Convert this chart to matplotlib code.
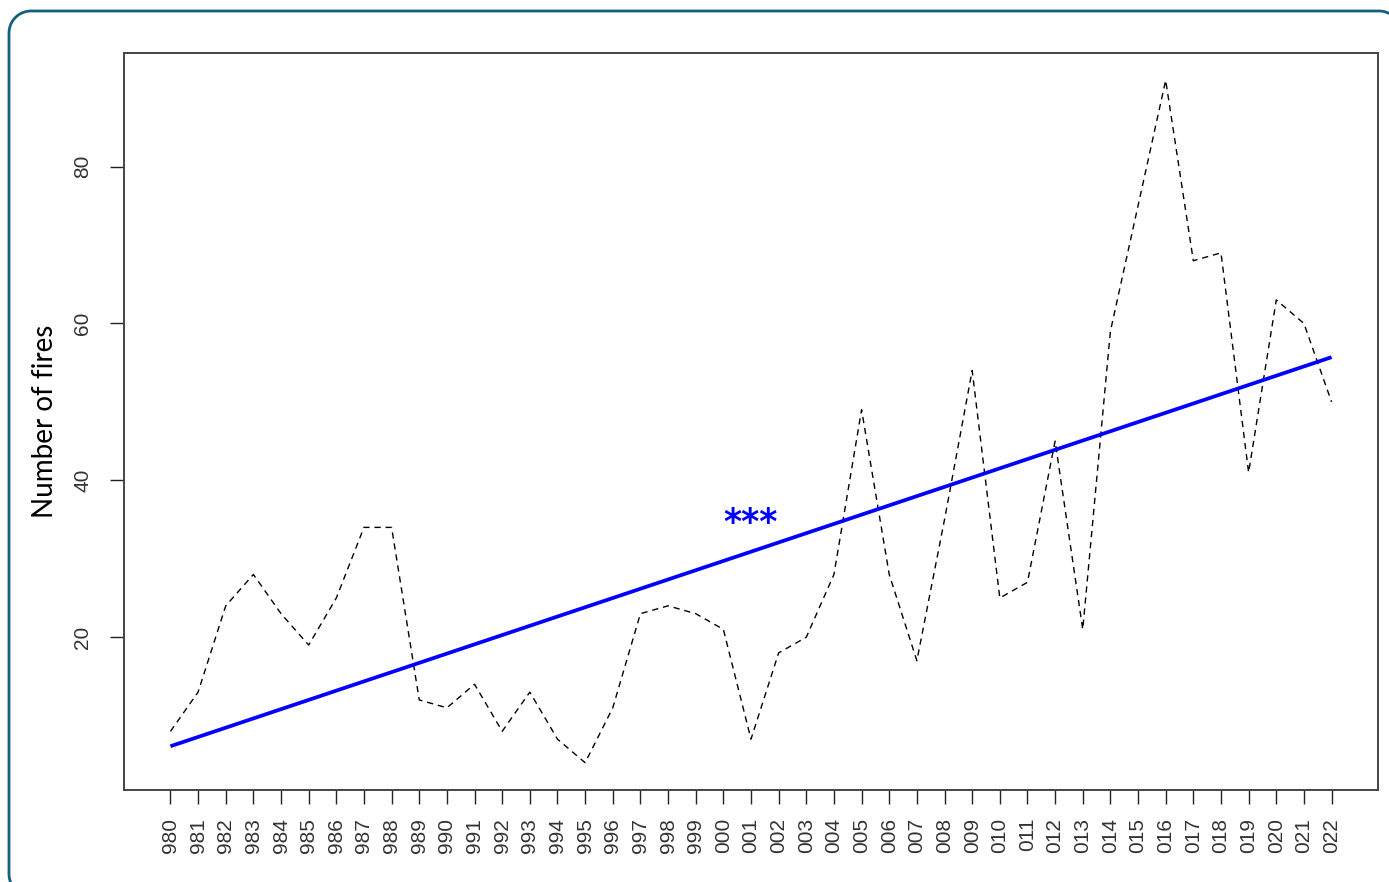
import matplotlib
matplotlib.use('Agg')
import matplotlib.pyplot as plt
import numpy as np
from matplotlib.lines import Line2D
from matplotlib.transforms import Affine2D

plt.rcParams['font.family'] = 'Liberation Sans'

# annual number of fires
years = list(range(1980, 2023))
fires = [8, 13, 24, 28, 23, 19, 25, 34, 34, 12,
         11, 14, 8, 13, 7, 4, 11, 23, 24, 23,
         21, 7, 18, 20, 28, 49, 28, 17, 35, 54,
         25, 27, 45, 21, 59, 75, 91, 68, 69, 41,
         63, 60, 50]
# fitted trend (end points)
trend_years = [1980, 2022]
trend_vals = [6.1, 55.7]
year_labels = [str(y)[1:] for y in years]
signif = '***'

W, H = 1389, 882
fig = plt.figure(figsize=(W / 100, H / 100), dpi=100)

# rounded teal frame, in image pixels (y down), cut by the right/bottom edge
r = 22
x0, y0, x1, y1 = 9, 11, 1401, 896
t = np.linspace(0, np.pi / 2, 20)
bl = np.c_[x0 + r - r * np.sin(t), y1 - r + r * np.cos(t)]
tl = np.c_[x0 + r - r * np.cos(t), y0 + r - r * np.sin(t)]
tr = np.c_[x1 - r + r * np.sin(t), y0 + r - r * np.cos(t)]
pts = np.vstack([bl, tl, tr, [[x1, y1 + 10]]])
pix = Affine2D().scale(1, -1).translate(0, H)
fig.add_artist(Line2D(pts[:, 0], pts[:, 1], transform=pix,
                      color='#125f80', lw=2.0, solid_joinstyle='round'))

ax = fig.add_axes([124 / W, 1 - 790 / H, (1378 - 124) / W, (790 - 53) / H])

ax.plot(years, fires, color='black', lw=1.0, dashes=(4.5, 3.5))
ax.plot(trend_years, trend_vals, color='#0000ff', lw=2.7, solid_capstyle='butt')
ax.text(2001, 34.6, signif, color='#0000ff', fontsize=25, fontweight='bold',
        ha='center', va='center', family='DejaVu Sans')

ax.margins(0.04)
ax.set_xticks(years)
ax.set_xticklabels(year_labels, rotation=90, fontsize=15, color='#333333')
ax.set_yticks([20, 40, 60, 80])
ax.set_yticklabels(['20', '40', '60', '80'], rotation=90, va='center',
                   fontsize=15, color='#333333')
ax.tick_params(axis='x', length=10, width=1.0, pad=10, color='#222222')
ax.tick_params(axis='y', length=10, width=1.0, pad=13, color='#222222')
for s in ax.spines.values():
    s.set_color('#444444')
    s.set_linewidth(1.4)

ax.set_ylabel('Number of fires', fontsize=20, family='Lato', labelpad=11)

fig.savefig('out.png', dpi=100)
